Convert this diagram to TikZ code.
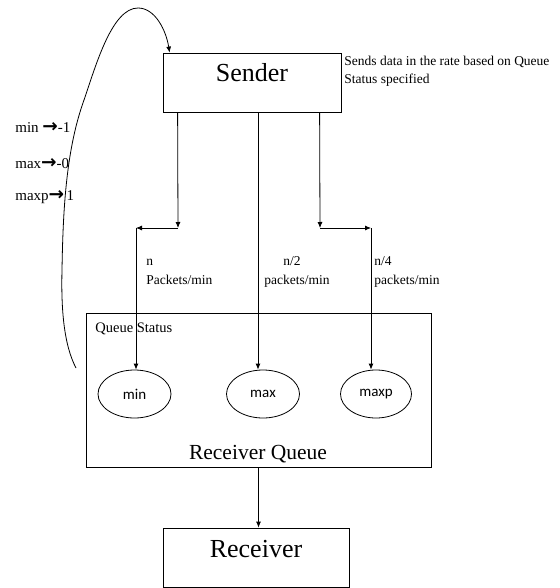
\documentclass[tikz,border=0pt]{standalone}
\usepackage{fontspec}
\setmainfont{Liberation Serif}
\newfontfamily\calib{Carlito}
\newfontfamily\arr{DejaVu Sans}
\usetikzlibrary{arrows.meta,calc,shapes.geometric}
\newcommand{\barrow}{{\arr\bfseries\fontsize{18.5}{18}\selectfont →}}
\begin{document}
\begin{tikzpicture}[x=1pt,y=-1pt, line width=0.8pt, >={Latex[length=6pt,width=5pt]},
  box/.style={draw, rectangle, inner sep=0pt},
  oval/.style={draw, ellipse, inner sep=0pt, minimum width=73pt, minimum height=48pt, font=\calib\fontsize{15}{18}\selectfont},
  small/.style={font=\fontsize{13.5}{18}\selectfont, inner sep=0pt, anchor=base west},
  legend/.style={font=\fontsize{15}{18}\selectfont, inner sep=0pt, anchor=base west},
  big/.style={font=\fontsize{26}{30}\selectfont, inner sep=0pt, anchor=base}]
\useasboundingbox (0,0) rectangle (559,588);

% Sender
\node[box, minimum width=178pt, minimum height=59pt] (sender) at (252,82.5) {};
\node[big] (sendertext) at (252,82) {Sender};
\node[font=\fontsize{13.5}{18}\selectfont, inner sep=0pt, anchor=north west, align=left] (note) at (344,55.5) {Sends data in the rate based on Queue\\Status specified};

% Receiver queue
\node[box, minimum width=345pt, minimum height=154pt] (rq) at (258.5,390) {};
\node[font=\fontsize{14.5}{17}\selectfont, inner sep=0pt, anchor=base west] (qs) at (95,332) {Queue Status};
\node[font=\fontsize{21.5}{26}\selectfont, inner sep=0pt, anchor=base] (rqt) at (258,459) {Receiver Queue};
\node[oval] (min) at (134.5,394) {min};
\node[oval] (max) at (263,394) {max};
\node[oval, minimum width=71pt] (maxp) at (376,394) {maxp};

% Receiver
\node[box, minimum width=186pt, minimum height=59pt] (recv) at (256,557.5) {};
\node[big] (recvtext) at (256,557) {Receiver};

% rate labels
\node[small] (l1a) at (146,265) {n};
\node[small] (l1b) at (146,284) {Packets/min};
\node[small] (l2a) at (283,265) {n/2};
\node[small] (l2b) at (264,284) {packets/min};
\node[small] (l3a) at (374,265) {n/4};
\node[small] (l3b) at (374,284) {packets/min};

% legend
\node[legend] (g1) at (15,133) {min \barrow-1};
\node[legend] (g2) at (15,168) {max\barrow-0};
\node[legend] (g3) at (15,200) {maxp\barrow\,1};

% connectors from sender
\coordinate (a1) at ($(sender.south west)+(15,0)$);
\coordinate (j1) at (178,228);
\coordinate (k1) at (136,228);
\draw[->] (a1) -- (j1);
\draw[->] (j1) -- (k1);
\draw[->] (k1) -- (k1 |- min.north);

\coordinate (a2) at ($(sender.south)+(6,0)$);
\draw[->] (a2) -- (a2 |- max.north);

\coordinate (a3) at ($(sender.south west)+(157,0)$);
\coordinate (j3) at (320,228);
\coordinate (k3) at (371,228);
\draw[->] (a3) -- (j3);
\draw[->] (j3) -- (k3);
\draw[->] (k3) -- (k3 |- maxp.north);

% queue to receiver
\draw[->] (rq.south) -- (rq.south |- recv.north);

% feedback curve
\coordinate (cs) at (76,368);
\coordinate (ce) at ($(sender.north west)+(7,0)$);
\draw[->] (cs) .. controls (64,345) and (61,310) .. (62,270)
  .. controls (63,210) and (66,150) .. (84,100)
  .. controls (96,65) and (112,8) .. (138,8)
  .. controls (155,8) and (166,30) .. (ce);
\end{tikzpicture}
\end{document}
